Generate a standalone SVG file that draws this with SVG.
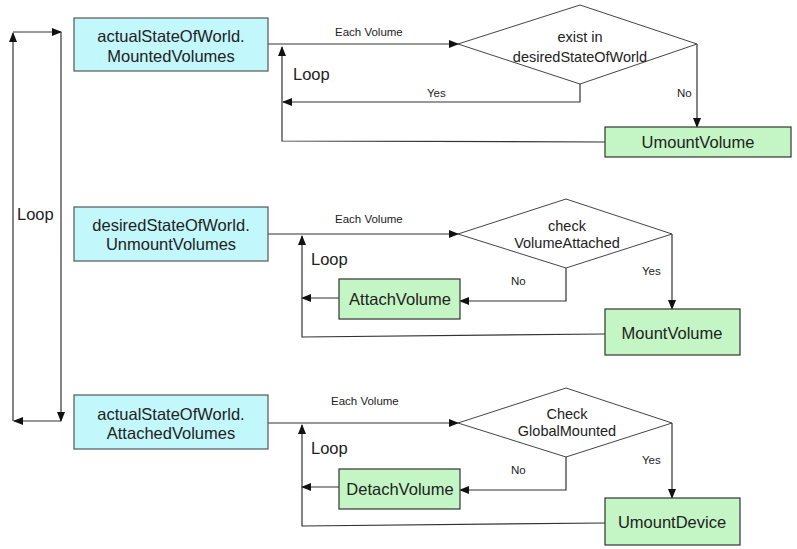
<svg xmlns="http://www.w3.org/2000/svg" width="797" height="549" viewBox="0 0 797 549">
<defs>
<marker id="ah" markerWidth="10" markerHeight="8" refX="9" refY="4" orient="auto" markerUnits="userSpaceOnUse">
<path d="M0,0 L10,4 L0,8 Z" fill="#111"/>
</marker>
<style>
.src{fill:#c2f7fb;stroke:#555;stroke-width:1.2}
.act{fill:#c4f5c4;stroke:#333;stroke-width:1.2}
.dia{fill:#fff;stroke:#444;stroke-width:1}
.ln{fill:none;stroke:#333;stroke-width:1.2}
.arr{fill:none;stroke:#333;stroke-width:1.2;marker-end:url(#ah)}
.t{font-family:"Liberation Sans",Arial,sans-serif;font-size:16.5px;fill:#222;text-anchor:middle}
.d{font-family:"Liberation Sans",Arial,sans-serif;font-size:14.5px;fill:#222;text-anchor:middle}
.s{font-family:"Liberation Sans",Arial,sans-serif;font-size:11.5px;fill:#222}
.l{font-family:"Liberation Sans",Arial,sans-serif;font-size:16.5px;fill:#222}
</style>
</defs>
<rect width="797" height="549" fill="#fff"/>

<g id="connectors">
<!-- outer loop -->
<polyline class="arr" points="13,421 13,33"/>
<polyline class="arr" points="13,32 61,32"/>
<polyline class="arr" points="61,32 61,421"/>
<polyline class="arr" points="61,421 14,421"/>
<!-- row 1 -->
<polyline class="arr" points="268,44 458,44"/>
<polyline class="arr" points="580,84 580,102 283,102"/>
<polyline class="arr" points="697,44 697,127"/>
<polyline class="arr" points="605,142 282,141 282,47"/>
<!-- row 2 -->
<polyline class="arr" points="268,234 458,234"/>
<polyline class="arr" points="566,268 566,301 460,301"/>
<polyline class="arr" points="672,234 672,309"/>
<polyline class="arr" points="339,298 302,298"/>
<polyline class="arr" points="605,334 302,337 302,236"/>
<!-- row 3 -->
<polyline class="arr" points="268,423 458,423"/>
<polyline class="arr" points="566,457 566,490 460,490"/>
<polyline class="arr" points="672,423 672,498"/>
<polyline class="arr" points="339,487 302,487"/>
<polyline class="arr" points="605,523 302,526 302,425"/>
</g>

<g id="labels">
<text class="l" x="17" y="220">Loop</text>
<text class="s" x="335" y="36">Each Volume</text>
<text class="s" x="427" y="97">Yes</text>
<text class="s" x="677" y="97">No</text>
<text class="l" x="293" y="80">Loop</text>
<text class="s" x="335" y="223">Each Volume</text>
<text class="s" x="511" y="285">No</text>
<text class="s" x="642" y="275">Yes</text>
<text class="l" x="311" y="265">Loop</text>
<text class="s" x="331" y="405">Each Volume</text>
<text class="s" x="511" y="474">No</text>
<text class="s" x="642" y="464">Yes</text>
<text class="l" x="311" y="454">Loop</text>
</g>

<g id="mountedVolumes">
<rect class="src" x="74" y="18" width="194" height="53"/>
<text class="t" x="171" y="42">actualStateOfWorld.</text>
<text class="t" x="171" y="62">MountedVolumes</text>
</g>
<g id="existDesired">
<polygon class="dia" points="458,44 580,5 697,44 580,84"/>
<text class="d" x="580" y="42">exist in</text>
<text class="d" x="580" y="62">desiredStateOfWorld</text>
</g>
<g id="umountVolume">
<rect class="act" x="605" y="127" width="186" height="30"/>
<text class="t" x="698" y="148">UmountVolume</text>
</g>

<g id="unmountVolumes">
<rect class="src" x="74" y="207" width="194" height="54"/>
<text class="t" x="171" y="231">desiredStateOfWorld.</text>
<text class="t" x="171" y="250">UnmountVolumes</text>
</g>
<g id="checkAttached">
<polygon class="dia" points="458,234 566,199 672,234 566,268"/>
<text class="d" x="567" y="231">check</text>
<text class="d" x="567" y="248">VolumeAttached</text>
</g>
<g id="attachVolume">
<rect class="act" x="339" y="279" width="121" height="40"/>
<text class="t" x="400" y="305">AttachVolume</text>
</g>
<g id="mountVolume">
<rect class="act" x="605" y="309" width="135" height="46"/>
<text class="t" x="672" y="339">MountVolume</text>
</g>

<g id="attachedVolumes">
<rect class="src" x="74" y="395" width="194" height="54"/>
<text class="t" x="171" y="420">actualStateOfWorld.</text>
<text class="t" x="171" y="439">AttachedVolumes</text>
</g>
<g id="checkGlobal">
<polygon class="dia" points="458,423 566,388 672,423 566,457"/>
<text class="d" x="567" y="419">Check</text>
<text class="d" x="567" y="436">GlobalMounted</text>
</g>
<g id="detachVolume">
<rect class="act" x="339" y="469" width="121" height="40"/>
<text class="t" x="400" y="495">DetachVolume</text>
</g>
<g id="umountDevice">
<rect class="act" x="605" y="498" width="135" height="47"/>
<text class="t" x="672" y="528">UmountDevice</text>
</g>
</svg>
